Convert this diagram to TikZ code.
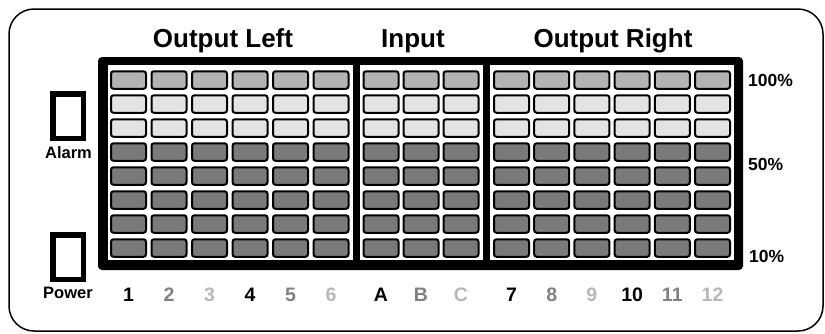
\documentclass[tikz,border=0pt]{standalone}
\usepackage{fontspec}
\setmainfont{Liberation Sans}
\definecolor{cellA}{HTML}{B3B3B3}
\definecolor{cellB}{HTML}{E3E3E3}
\definecolor{cellC}{HTML}{7A7A7A}
\definecolor{numgray}{HTML}{808080}
\definecolor{numlight}{HTML}{B8B8B8}
\begin{document}
\begin{tikzpicture}[x=1pt,y=-1pt,
  cell/.style={draw=black, line width=2pt, rounded corners=2.5pt, minimum width=35pt, minimum height=17.5pt, inner sep=0pt},
  header/.style={font=\fontsize{26}{28}\selectfont\bfseries, anchor=base, inner sep=0pt},
  pct/.style={font=\fontsize{17.5}{19}\selectfont\bfseries, anchor=base west, inner sep=0pt},
  side/.style={font=\fontsize{16.5}{18}\selectfont\bfseries, anchor=base, inner sep=0pt},
  num/.style={font=\fontsize{19.5}{21}\selectfont\bfseries, anchor=base, inner sep=0pt},
  lamp/.style={draw=black, line width=5.5pt, minimum width=30.5pt, minimum height=44.5pt, inner sep=0pt}]
\useasboundingbox (0,0) rectangle (825,333);
% outer frame
\draw[line width=1.5pt, rounded corners=25pt] (9,9) rectangle (823,331);
% display frame
\fill[black, rounded corners=4pt] (98,57) rectangle (743,270);
\fill[white] (108,65) rectangle (734,260);
\fill[black] (353,65) rectangle (360,260);
\fill[black] (483,65) rectangle (490,260);
% headers
\node[header] (hl) at (223,47) {Output Left};
\node[header] (hi) at (413,47) {Input};
\node[header] (hr) at (613,47) {Output Right};
% cells
\foreach \j/\c in {0/cellA,1/cellB,2/cellB,3/cellC,4/cellC,5/cellC,6/cellC,7/cellC}{
  \foreach \i in {0,...,5}{
    \node[cell, fill=\c] (L\i-\j) at ({128.5+40.5*\i},{80+24*\j}) {};
    \node[cell, fill=\c] (R\i-\j) at ({511.5+40.2*\i},{80+24*\j}) {};
  }
  \foreach \i in {0,1,2}{
    \node[cell, fill=\c] (I\i-\j) at ({381+40*\i},{80+24*\j}) {};
  }
}
% column labels
\foreach \i/\t/\k in {0/1/black,1/2/numgray,2/3/numlight,3/4/black,4/5/numgray,5/6/numlight}{
  \node[num, text=\k] (nl\i) at ({128.5+40.5*\i},301) {\t};
}
\foreach \i/\t/\k in {0/A/black,1/B/numgray,2/C/numlight}{
  \node[num, text=\k] (ni\i) at ({381+40*\i},301) {\t};
}
\foreach \i/\t/\k in {0/7/black,1/8/numgray,2/9/numlight,3/10/black,4/11/numgray,5/12/numlight}{
  \node[num, text=\k] (nr\i) at ({511.5+40.2*\i},301) {\t};
}
% percent labels
\node[pct] (p100) at (748,86) {100\%};
\node[pct] (p50) at (748,170) {50\%};
\node[pct] (p10) at (749,262) {10\%};
% lamps
\node[lamp] (alarm) at (68,116) {};
\node[side] (alarmlbl) at (68.5,158) {Alarm};
\node[lamp] (power) at (68,257) {};
\node[side] (powerlbl) at (68,298) {Power};
\end{tikzpicture}
\end{document}
